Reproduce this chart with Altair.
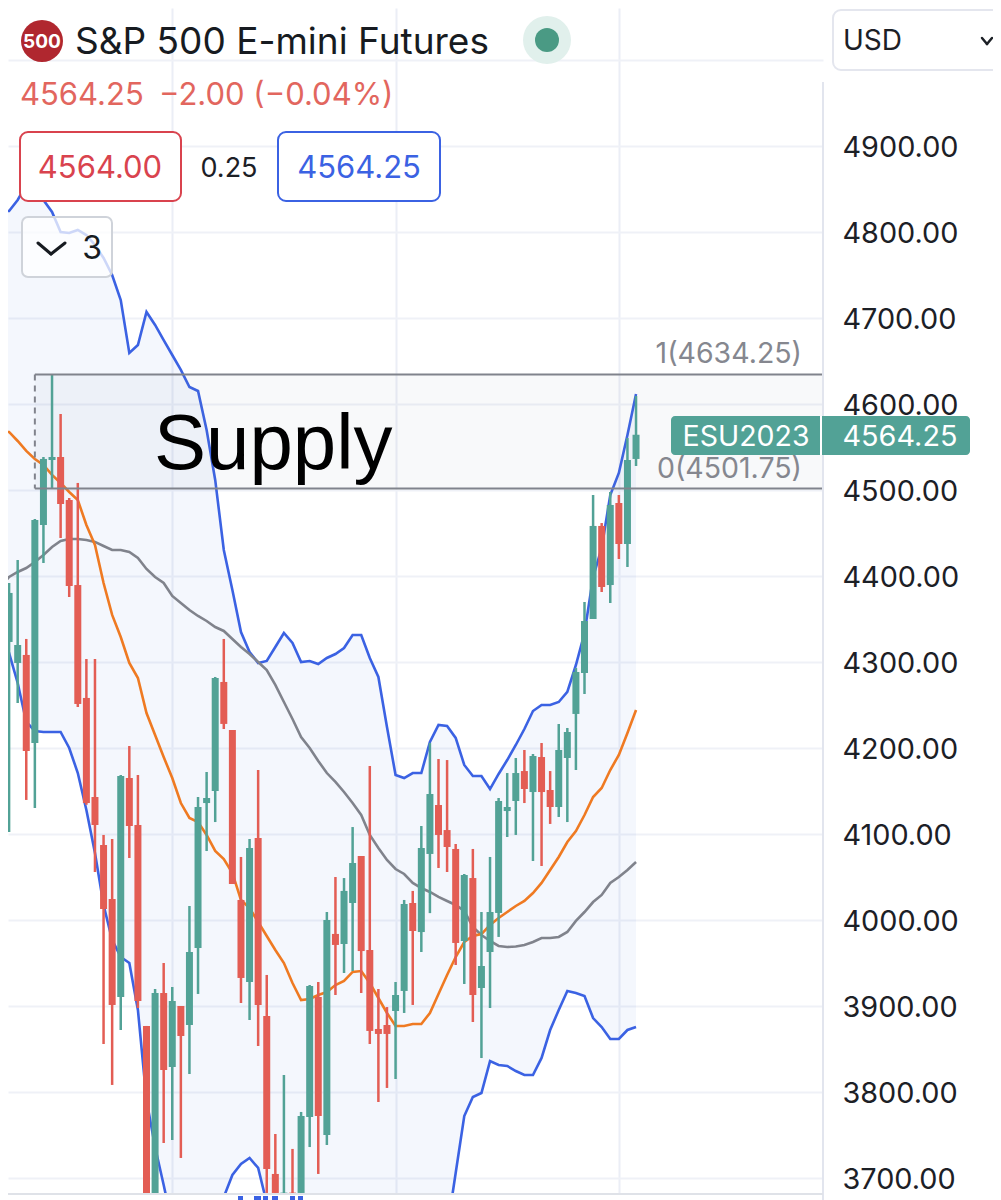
import altair as alt
import pandas as pd

open_ = [4411.7, 4323.3, 4298.9, 4308.2, 4205.8, 4459.3, 4534.9, 4538.4, 4488.4, 4389.5,
         4258.2, 4143.0, 4087.2, 4024.4, 3910.5, 4165.1, 4110.5, 3876.8, 3682.6, 3915.1,
         3829.1, 3900.0, 3877.9, 3967.5, 4136.0, 4150.0, 4276.8, 4220.9, 4023.3, 3927.9,
         4095.4, 3888.4, 3704.7, 3682.0, 3683.0, 3682.6, 3770.9, 3910.5, 3750.0, 3983.8,
         3972.1, 4019.8, 4074.4, 3965.1, 3873.3, 3877.9, 3894.2, 3917.5, 4019.8, 3986.0,
         4076.8, 4133.7, 4104.6, 4082.6, 3975.6, 4048.8, 3920.9, 3962.8, 4008.2, 4126.7,
         4138.4, 4173.2, 4148.8, 4189.5, 4151.2, 4131.4, 4188.4, 4239.6, 4287.2, 4350.0,
         4458.2, 4389.5, 4484.9, 4437.2, 4536.1]
high = [4484.9, 4391.9, 4418.6, 4326.8, 4466.3, 4538.4, 4634.25, 4588.4, 4490.7, 4508.2,
        4303.5, 4303.5, 4098.9, 4094.2, 4168.6, 4202.3, 4168.6, 3876.8, 3919.8, 3950.0,
        3922.1, 3900.0, 4016.3, 4143.0, 4172.1, 4282.6, 4326.8, 4220.9, 4073.3, 4094.2,
        4174.4, 3936.1, 3751.2, 3819.8, 3733.8, 3776.8, 3924.4, 3927.9, 4009.3, 4050.0,
        4048.8, 4108.1, 4074.4, 4179.1, 3919.8, 3898.8, 3927.9, 4023.3, 4033.8, 4109.3,
        4205.8, 4187.2, 4186.0, 4088.4, 4053.5, 4082.6, 4009.3, 4073.3, 4141.9, 4170.9,
        4188.4, 4197.7, 4193.0, 4205.8, 4173.2, 4227.9, 4223.3, 4293.0, 4369.8, 4494.2,
        4461.6, 4497.7, 4494.2, 4560.5, 4609.3]
low = [4320.9, 4102.3, 4252.3, 4139.6, 4130.3, 4415.1, 4502.3, 4444.2, 4375.6, 4247.7,
       4134.0, 4055.8, 3855.8, 3808.2, 3872.1, 4072.1, 3897.7, 3682.6, 3682.6, 3740.7,
       3744.2, 3723.3, 3820.9, 3914.0, 4080.2, 4113.9, 4222.1, 4041.9, 3903.5, 3883.7,
       3853.5, 3682.6, 3682.6, 3682.0, 3682.0, 3682.6, 3736.0, 3704.7, 3738.4, 3912.8,
       3938.4, 3940.7, 3915.1, 3855.8, 3788.4, 3804.7, 3815.1, 3891.9, 3901.2, 3962.8,
       4008.0, 4060.5, 4055.8, 3947.7, 3925.6, 3881.4, 3839.5, 3897.7, 3980.3, 4096.5,
       4098.9, 4136.0, 4068.6, 4062.8, 4111.7, 4119.8, 4113.9, 4174.4, 4262.8, 4350.0,
       4381.4, 4368.6, 4419.8, 4410.5, 4527.9]
close = [4344.2, 4380.3, 4319.8, 4196.5, 4465.1, 4536.1, 4538.4, 4483.7, 4388.4, 4251.2,
         4136.0, 4110.5, 4012.8, 3901.2, 4167.4, 4109.3, 3905.8, 3682.6, 3915.1, 3825.6,
         3905.8, 3865.1, 3962.8, 4131.4, 4141.9, 4281.4, 4228.0, 4041.9, 3932.6, 4083.7,
         3901.2, 3710.5, 3682.6, 3683.0, 3682.0, 3772.1, 3923.3, 3772.1, 4000.0, 3971.0,
         4033.8, 4066.3, 3963.9, 3871.0, 3867.5, 3867.5, 3912.8, 4018.6, 3987.2, 4083.7,
         4146.5, 4098.9, 4084.9, 3973.3, 4052.3, 3912.8, 3946.5, 4009.3, 4138.4, 4131.4,
         4170.9, 4152.3, 4190.7, 4148.8, 4131.4, 4197.7, 4218.6, 4288.4, 4347.7, 4458.2,
         4387.2, 4482.6, 4437.2, 4534.9, 4564.25]

band_upper = [4824.5, 4824.5, 4837.2, 4854.7, 4854.7, 4837.2, 4823.3, 4800.0, 4798.9, 4802.4,
              4796.5, 4784.9, 4769.8, 4750.0, 4720.9, 4659.3, 4668.6, 4707.0, 4691.9, 4674.4,
              4657.0, 4639.6, 4619.8, 4615.1, 4569.8, 4511.7, 4430.3, 4383.7, 4334.9, 4311.6,
              4298.9, 4301.2, 4317.5, 4333.7, 4322.1, 4300.0, 4301.2, 4297.7, 4304.7, 4309.3,
              4316.3, 4331.4, 4331.4, 4304.7, 4282.6, 4224.4, 4168.6, 4165.1, 4170.9, 4170.9,
              4207.0, 4226.8, 4225.6, 4211.7, 4180.3, 4167.4, 4167.4, 4152.3, 4169.8, 4186.0,
              4203.5, 4222.1, 4243.0, 4250.0, 4250.0, 4253.5, 4265.2, 4296.5, 4333.7, 4398.8,
              4432.6, 4494.2, 4519.8, 4564.0, 4611.6]
band_lower = [4310.5, 4310.5, 4275.6, 4230.3, 4219.8, 4218.6, 4218.6, 4218.6, 4200.0, 4170.9,
              4127.9, 4077.9, 4017.5, 3976.8, 3957.0, 3950.0, 3895.4, 3790.7, 3736.0, 3691.9,
              3645.4, 3627.9, 3616.3, 3616.3, 3622.0, 3651.2, 3677.9, 3703.5, 3716.3, 3723.3,
              3711.7, 3670.9, 3627.9, 3600.0, 3590.0, 3590.0, 3600.0, 3610.0, 3610.0, 3600.0,
              3600.0, 3590.0, 3590.0, 3590.0, 3600.0, 3610.0, 3610.0, 3610.0, 3600.0, 3600.0,
              3600.0, 3600.0, 3639.6, 3705.8, 3772.0, 3794.2, 3798.8, 3836.0, 3831.4, 3830.3,
              3824.4, 3819.8, 3819.8, 3839.6, 3872.1, 3895.4, 3917.5, 3915.1, 3911.7, 3886.0,
              3875.6, 3861.7, 3861.7, 3872.1, 3875.6]
band_mid = [4387.2, 4398.9, 4404.7, 4409.3, 4416.3, 4424.5, 4433.7, 4440.7, 4443.0, 4443.0,
            4441.9, 4439.6, 4434.9, 4430.3, 4430.3, 4427.9, 4421.0, 4408.2, 4398.9, 4391.9,
            4376.8, 4368.6, 4360.5, 4353.5, 4347.7, 4340.7, 4336.1, 4326.8, 4317.5, 4309.3,
            4300.0, 4290.7, 4273.3, 4253.5, 4233.7, 4212.8, 4200.0, 4184.9, 4170.9, 4160.5,
            4148.9, 4136.0, 4122.1, 4098.9, 4083.7, 4069.8, 4059.3, 4053.5, 4043.1, 4037.2,
            4032.6, 4026.8, 4022.1, 4017.5, 4010.5, 3991.9, 3982.6, 3975.6, 3969.8, 3968.6,
            3969.2, 3970.9, 3974.4, 3979.1, 3979.1, 3980.3, 3986.1, 3998.9, 4009.3, 4020.9,
            4029.1, 4043.1, 4050.0, 4058.2, 4067.5]
ema = [4567.5, 4567.5, 4557.0, 4545.4, 4536.1, 4529.1, 4517.5, 4508.2, 4497.7, 4488.4,
       4459.3, 4436.1, 4391.9, 4354.7, 4329.1, 4298.9, 4281.4, 4240.7, 4215.1, 4189.5,
       4165.1, 4136.0, 4118.6, 4113.9, 4098.9, 4080.3, 4070.9, 4054.7, 4023.3, 4014.0,
       3997.7, 3981.4, 3965.1, 3950.0, 3926.7, 3907.0, 3908.2, 3912.8, 3916.3, 3924.4,
       3929.1, 3939.6, 3940.7, 3926.7, 3909.3, 3891.9, 3876.8, 3876.8, 3879.1, 3879.1,
       3891.9, 3914.0, 3936.1, 3957.0, 3974.4, 3981.4, 3983.7, 3994.2, 4002.3, 4009.3,
       4016.3, 4022.1, 4031.4, 4043.1, 4058.2, 4073.3, 4090.7, 4103.5, 4122.1, 4143.0,
       4153.5, 4174.4, 4191.9, 4217.5, 4244.2]

price_ticks = [3700, 3800, 3900, 4000, 4100, 4200, 4300, 4400, 4500, 4600, 4700, 4800, 4900, 5000]
time_ticks = [20, 46, 72]
supply_top, supply_bottom = 4634.25, 4501.75

GREEN, RED, BLUE = "#52a296", "#e35d54", "#3b62e3"
FONT = "Inter"

df = pd.DataFrame({"i": range(len(close)), "open": open_, "high": high, "low": low, "close": close,
                   "upper": band_upper, "lower": band_lower, "mid": band_mid, "ema": ema})
df["direction"] = ["up" if c >= o else "down" for o, c in zip(open_, close)]

x_dom = [0.873, 95.77]
y_dom = [3681.4, 5060.47]
x_scale = alt.Scale(domain=x_dom, nice=False, zero=False, padding=0)
y_scale = alt.Scale(domain=y_dom, nice=False, zero=False, padding=0)
x_axis = alt.Axis(values=time_ticks, labels=False, ticks=False, domain=False, title=None,
                  grid=True, gridColor="#ebeef6", gridWidth=2)
y_axis = alt.Axis(orient="right", values=price_ticks, format=".2f", title=None,
                  labelExpr="datum.value > 4950 ? '' : format(datum.value, '.2f')",
                  ticks=False, domain=False, grid=True, gridColor="#eff1f7", gridWidth=2,
                  labelFont=FONT, labelFontSize=28.8, labelColor="#1c2026",
                  labelPadding=19, labelOffset=1, labelOverlap=False)


def X(field="i"):
    return alt.X(f"{field}:Q", scale=x_scale, axis=x_axis)


def Y(field):
    return alt.Y(f"{field}:Q", scale=y_scale, axis=y_axis)


color = alt.Color("direction:N", scale=alt.Scale(domain=["up", "down"], range=[GREEN, RED]), legend=None)

base = alt.Chart(df)

band = base.mark_area(color="#4a7fe0", opacity=0.06, clip=True).encode(x=X(), y=Y("upper"), y2="lower:Q")


def band_line(field, col):
    return base.mark_line(color=col, strokeWidth=2.6, clip=True).encode(x=X(), y=Y(field))


wicks = base.mark_rule(strokeWidth=2.5, clip=True).encode(x=X(), y=Y("low"), y2="high:Q", color=color)
bodies = base.mark_bar(size=7, clip=True).encode(x=X(), y=Y("open"), y2="close:Q", color=color)

supply_fill = alt.Chart(alt.Data(values=[{"x": 4, "x2": x_dom[1], "y": supply_top, "y2": supply_bottom}])).mark_rect(
    color="#7c8494", opacity=0.05).encode(x=X("x"), x2="x2:Q", y=Y("y"), y2="y2:Q")
supply_edges = alt.Chart(alt.Data(values=[{"x": 4, "x2": x_dom[1], "y": supply_top},
                                          {"x": 4, "x2": x_dom[1], "y": supply_bottom}])).mark_rule(
    color="#80838c", strokeWidth=2).encode(x=X("x"), x2="x2:Q", y=Y("y"))
supply_left = alt.Chart(alt.Data(values=[{"x": 4, "y": supply_top, "y2": supply_bottom}])).mark_rule(
    color="#80838c", strokeWidth=2, strokeDash=[6, 5]).encode(x=X("x"), y=Y("y"), y2="y2:Q")

one = alt.Data(values=[{}])


# page furniture is placed in reference pixels, the plot starts 8px into the page
def rect(x0, y0, x1, y1, **mark):
    return alt.Chart(one).mark_rect(**mark).encode(
        x=alt.value(x0 - 8), x2=alt.value(x1 - 8), y=alt.value(y0 - 8), y2=alt.value(y1 - 8))


def seg(x0, y0, x1, y1, col, w=2, **mark):
    return alt.Chart(one).mark_rule(color=col, strokeWidth=w, **mark).encode(
        x=alt.value(x0 - 8), x2=alt.value(x1 - 8), y=alt.value(y0 - 8), y2=alt.value(y1 - 8))


def label(text, x, y, size, col, align="left", font=FONT, **mark):
    return alt.Chart(one).mark_text(text=text, fontSize=size, color=col, align=align, baseline="middle",
                                    font=font, **mark).encode(x=alt.value(x - 8), y=alt.value(y - 8))


def dot(x, y, diameter, col):
    return alt.Chart(one).mark_point(filled=True, opacity=1, color=col, size=diameter ** 2, shape="circle").encode(
        x=alt.value(x - 8), y=alt.value(y - 8))


furniture = [
    seg(823, 82, 823, 1200, "#e2e5ee"),
    seg(0, 1194, 823, 1194, "#dfe2e8"),
    # clipped time labels under the plot
    rect(238, 1196, 243, 1200, color=BLUE), rect(254, 1196, 261, 1200, color=BLUE),
    rect(263, 1196, 268, 1200, color=BLUE), rect(272, 1196, 278, 1200, color=BLUE),
    rect(290, 1196, 295, 1200, color=BLUE), rect(298, 1196, 303, 1200, color=BLUE),
    label("Supply", 154, 446, 78, "#000000", font="Liberation Sans"),
    label("1(4634.25)", 802, 354, 28.5, "#85878f", align="right"),
    label("0(4501.75)", 802, 469, 28.5, "#85878f", align="right"),
    # last price tag
    rect(671, 416, 970, 455, color=GREEN, cornerRadius=4),
    seg(821, 416, 821, 455, "#ffffff"),
    label("ESU2023", 746, 437, 28.5, "#ffffff", align="center"),
    label("4564.25", 900, 437, 28.8, "#ffffff", align="center"),
    # header
    dot(42, 41, 42, "#b0272f"),
    label("500", 42, 42, 19, "#ffffff", align="center", fontWeight="bold"),
    label("S&P 500 E-mini Futures", 75, 43, 37, "#171b21"),
    dot(547, 40, 48, "#e1f0ec"),
    dot(547, 40, 24, "#4a9a84"),
    rect(833, 10, 1010, 70, fill="#ffffff", stroke="#e4e6ee", strokeWidth=2, cornerRadius=8),
    label("USD", 843, 42, 28, "#1c2026"),
    seg(982, 38, 987, 44, "#1c2026", 2.5, strokeCap="round"),
    seg(987, 44, 992, 38, "#1c2026", 2.5, strokeCap="round"),
    label("4564.25", 20, 96, 31, "#e2665e"),
    label("\u22122.00 (\u22120.04%)", 159, 96, 31, "#e2665e"),
    rect(20, 132, 181, 201, fill="#ffffff", stroke="#d9434e", strokeWidth=2, cornerRadius=8),
    label("4564.00", 100, 169, 31, "#d9434e", align="center"),
    label("0.25", 229, 169, 27, "#1c2026", align="center"),
    rect(278, 132, 440, 201, fill="#ffffff", stroke=BLUE, strokeWidth=2, cornerRadius=8),
    label("4564.25", 359, 169, 31, BLUE, align="center"),
    rect(22, 217, 112, 277, fill="#ffffff", fillOpacity=0.75, stroke="#cfd3da", strokeWidth=2, cornerRadius=6),
    seg(38, 243, 51, 254, "#171b21", 3, strokeCap="round"),
    seg(51, 254, 65, 243, "#171b21", 3, strokeCap="round"),
    label("3", 92, 249, 32, "#171b21", align="center"),
]

chart = alt.layer(
    band,
    band_line("upper", BLUE),
    band_line("lower", BLUE),
    band_line("mid", "#80838c"),
    band_line("ema", "#ef7a22"),
    supply_fill,
    wicks,
    bodies,
    supply_edges,
    supply_left,
    *furniture,
).properties(
    width=815,
    height=1186,
    autosize=alt.AutoSizeParams(type="none"),
    padding={"left": 0, "top": 0, "right": 170, "bottom": 6},
).configure_view(stroke=None)

chart.save("out.html", embed_options={"renderer": "svg", "actions": False})
